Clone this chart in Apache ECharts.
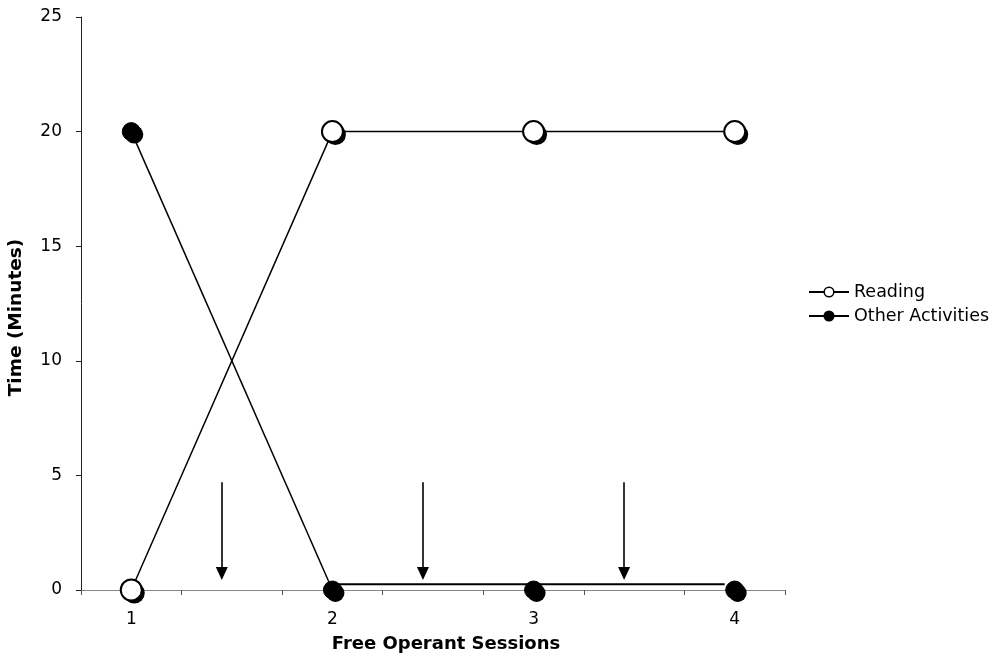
<!DOCTYPE html>
<html>
<head>
<meta charset="utf-8">
<script src="https://cdn.jsdelivr.net/npm/echarts@6/dist/echarts.min.js"></script>
<style>
html,body{margin:0;padding:0;background:#fff;}
#chart{width:999px;height:660px;}
</style>
</head>
<body>
<div id="chart"></div>
<script>
// ---- data ----
var sessions = [1, 2, 3, 4];
var readingMinutes = [0, 20, 20, 20];
var otherMinutes = [20, 0, 0, 0];
var xTickValues = [0.75, 1.25, 1.75, 2.25, 2.75, 3.25, 3.75, 4.25];
var xLabelValues = [1, 2, 3, 4];
var yTickValues = [0, 5, 10, 15, 20, 25];
var arrowSessions = [1.45, 2.45, 3.45];
var arrowTop = 4.7;
var arrowHead = 0.72;
var phaseLineStart = 2;
var phaseLineEnd = 3.95;
var phaseLineLevel = 0.25;

var FONT = 'DejaVu Sans';

function pairs(xs, ys) { return xs.map(function (x, i) { return [x, ys[i]]; }); }

var readingData = pairs(sessions, readingMinutes);
var otherPairs = pairs(sessions, otherMinutes);

var arrowLines = arrowSessions.map(function (x) {
  return [{coord: [x, arrowTop]}, {coord: [x, arrowHead]}];
});

function shadowSeries(data, size, z) {
  return {
    name: 'shadow',
    type: 'scatter',
    data: data,
    symbol: 'circle',
    symbolSize: size,
    symbolOffset: [3, 3],
    itemStyle: {color: '#000', opacity: 1},
    silent: true,
    z: z
  };
}

var chart = echarts.init(document.getElementById('chart'), null, {renderer: 'canvas'});
chart.setOption({
  animation: false,
  backgroundColor: '#fff',
  textStyle: {fontFamily: FONT, color: '#000'},
  grid: {left: 81, right: 214, top: 17, bottom: 70, containLabel: false, outerBoundsMode: 'none'},
  legend: {
    orient: 'vertical',
    left: 803,
    top: 278,
    itemWidth: 40,
    itemHeight: 12,
    itemGap: 6,
    data: ['Reading', 'Other Activities'],
    textStyle: {fontFamily: FONT, fontSize: 17.5, color: '#000'},
    itemStyle: {borderWidth: 1.5}
  },
  xAxis: {
    type: 'value',
    min: 0.75,
    max: 4.25,
    name: 'Free Operant Sessions',
    nameLocation: 'middle',
    nameGap: 45,
    nameTextStyle: {fontFamily: FONT, fontWeight: 'bold', fontSize: 18, color: '#000', padding: [0, 0, 0, 26]},
    splitLine: {show: false},
    axisLine: {lineStyle: {color: '#868686', width: 1}},
    axisTick: {show: true, length: 5, inside: false, customValues: xTickValues, lineStyle: {color: '#555'}},
    axisLabel: {customValues: xLabelValues, margin: 21, fontFamily: FONT, fontSize: 17, color: '#000',
      formatter: function (v) { return String(v); }}
  },
  yAxis: {
    type: 'value',
    min: 0,
    max: 25,
    interval: 5,
    name: 'Time (Minutes)',
    nameLocation: 'middle',
    nameGap: 55,
    nameTextStyle: {fontFamily: FONT, fontWeight: 'bold', fontSize: 18.5, color: '#000', padding: [0, 28, 0, 0]},
    splitLine: {show: false},
    axisLine: {show: true, lineStyle: {color: '#222', width: 1}},
    axisTick: {show: true, length: 5, lineStyle: {color: '#222'}},
    axisLabel: {margin: 19, fontFamily: FONT, fontSize: 17, color: '#000',
      formatter: function (v) { return yTickValues.indexOf(v) >= 0 ? String(v) : ''; }}
  },
  series: [
    {
      name: 'phase',
      type: 'line',
      data: [[phaseLineStart, phaseLineLevel], [phaseLineEnd, phaseLineLevel]],
      symbol: 'none',
      lineStyle: {color: '#000', width: 2},
      silent: true,
      z: 1,
      markLine: {
        silent: true,
        symbol: ['none', 'triangle'],
        symbolSize: [12, 13],
        label: {show: false},
        lineStyle: {color: '#000', width: 1.6, type: 'solid'},
        emphasis: {disabled: true},
        data: arrowLines
      }
    },
    {
      name: 'Other Activities',
      type: 'line',
      data: otherPairs.slice(0, 2),
      symbol: 'none',
      lineStyle: {color: '#000', width: 1.5},
      itemStyle: {color: '#000', borderColor: '#000', borderWidth: 1},
      z: 2
    },
    {
      name: 'Reading',
      type: 'line',
      data: readingData,
      symbol: 'none',
      lineStyle: {color: '#000', width: 1.5},
      itemStyle: {color: '#fff', borderColor: '#000', borderWidth: 1.5},
      z: 2
    },
    shadowSeries(otherPairs, 18, 3),
    shadowSeries(readingData, 21, 3),
    {
      name: 'Other Activities',
      type: 'scatter',
      data: otherPairs,
      symbol: 'circle',
      symbolSize: 18,
      itemStyle: {color: '#000', borderColor: '#000', borderWidth: 1, opacity: 1},
      z: 4
    },
    {
      name: 'Reading',
      type: 'scatter',
      data: readingData,
      symbol: 'circle',
      symbolSize: 21,
      itemStyle: {color: '#fff', borderColor: '#000', borderWidth: 2, opacity: 1},
      z: 5
    }
  ]
});
</script>
</body>
</html>
